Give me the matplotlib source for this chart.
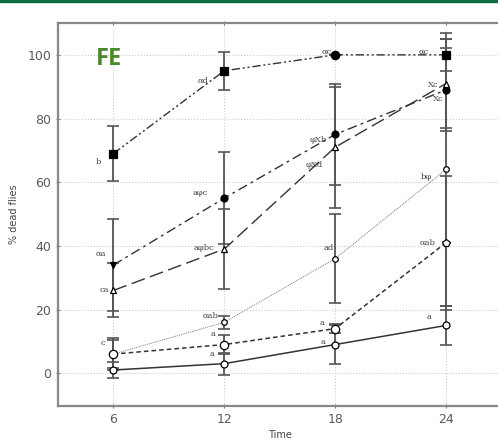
import matplotlib

matplotlib.use("Agg")
import matplotlib.pyplot as plt
from matplotlib.patches import Rectangle

DPI = 100
FIG_SIZE = (4.98, 4.41)

hours = [6, 12, 18, 24]

# mean % dead flies per series
s1 = [69, 95, 100, 100]
s2 = [34, 55, 75, 89]
s3 = [26, 39, 71, 91]
s4 = [6, 16, 36, 64]
s5 = [6, 9, 14, 41]
s6 = [1, 3, 9, 15]

# half-width of error bars
e1 = [8.5, 6, 0, 5]
e2 = [14.5, 14.5, 16, 13]
e3 = [8.5, 12.5, 19, 14]
e4 = [5, 2, 14, 43]
e5 = [4.5, 3, 1.5, 21]
e6 = [2.5, 3.5, 6, 6]

# significance letters
l1 = ["b", "αd", "αc", "αc"]
l2 = ["αa", "aφc", "φXb", "Xc"]
l3 = ["ca", "aφbc", "φXd", "Xc"]
l4 = ["c", "αab", "ad", "bφ"]
l5 = ["", "a", "a", "αab"]
l6 = ["", "a", "a", "a"]

series = [
    (s1, e1, l1, ["s", "s", "o", "s"], "black", (0, (6, 2, 1.5, 2, 1.5, 2)), 1.0, 6, "#333333"),
    (s2, e2, l2, ["v", "o", "o", "o"], "black", (0, (7, 3, 2, 3)), 1.0, 5, "#333333"),
    (s3, e3, l3, ["^", "^", "^", "^"], "white", (0, (10, 4)), 1.0, 4, "#333333"),
    (s4, e4, l4, ["o", "o", "o", "o"], "white", (0, (1, 1)), 0.7, 4, "#777777"),
    (s5, e5, l5, ["o", "o", "o", "p"], "white", (0, (3, 2)), 1.1, 6, "#333333"),
    (s6, e6, l6, ["o", "o", "o", "o"], "white", "-", 1.1, 5, "#333333"),
]

# label offsets in pixels (dx, dy)
offsets = [
    [(-15, -8), (-21, -10), (-8, 3), (-22, 3)],
    [(-13, 11), (-24, 5), (-17, -6), (-13, 5)],
    [(-9, 0), (-20, 1), (-21, -18), (-8, -15)],
    [(-11, 11), (-14, 6), (-6, 11), (-20, -8)],
    [(0, 0), (-11, 11), (-13, 6), (-18, 0)],
    [(0, 0), (-12, 10), (-12, 3), (-17, 8)],
]

fig = plt.figure(figsize=FIG_SIZE, dpi=DPI)
ax = fig.add_axes([0.1165, 0.0794, 0.8905, 0.8684])

for (vals, errs, labels, markers, face, ls, lw, ms, lc), offs in zip(series, offsets):
    ax.errorbar(
        hours,
        vals,
        yerr=errs,
        fmt="none",
        ecolor="#555555",
        elinewidth=1.3,
        capsize=4,
        capthick=1.2,
        zorder=2,
    )
    ax.plot(hours, vals, color=lc, linestyle=ls, linewidth=lw, zorder=3)
    for x, y, m, lab, (dx, dy) in zip(hours, vals, markers, labels, offs):
        ax.plot(
            x,
            y,
            marker=m,
            markersize=ms,
            markerfacecolor=face,
            markeredgecolor="black",
            markeredgewidth=0.9,
            linestyle="none",
            zorder=4,
        )
        if lab:
            ax.annotate(
                lab,
                xy=(x, y),
                xytext=(dx, dy),
                textcoords="offset pixels",
                ha="center",
                va="center",
                fontsize=6,
                color="#444444",
                family="DejaVu Serif",
                zorder=5,
            )

ax.set_xlim(3, 27)
ax.set_ylim(-10.3, 110)
ax.set_xticks(hours)
ax.set_yticks(range(0, 101, 20))
ax.grid(True, color="#cccccc", linestyle=":", linewidth=0.8)
ax.tick_params(
    direction="inout",
    length=3,
    width=0.8,
    color="#777777",
    labelcolor="#5a5a5a",
    labelsize=9,
    top=True,
)
for spine in ax.spines.values():
    spine.set_color("#888888")
    spine.set_linewidth(1.6)

ax.set_ylabel("% dead flies", fontsize=7, color="#444444", labelpad=6)
ax.set_xlabel("Time", fontsize=7, color="#444444", labelpad=3)

ax.text(
    0.115,
    0.905,
    "FE",
    transform=ax.transAxes,
    fontsize=17,
    fontweight="bold",
    color="#4a8a2c",
    family="Open Sans",
    ha="center",
    va="center",
)

fig.patches.append(
    Rectangle((0, 0.995), 1, 0.005, transform=fig.transFigure, color="#0d6b45")
)

plt.savefig("out.png", dpi=DPI)
